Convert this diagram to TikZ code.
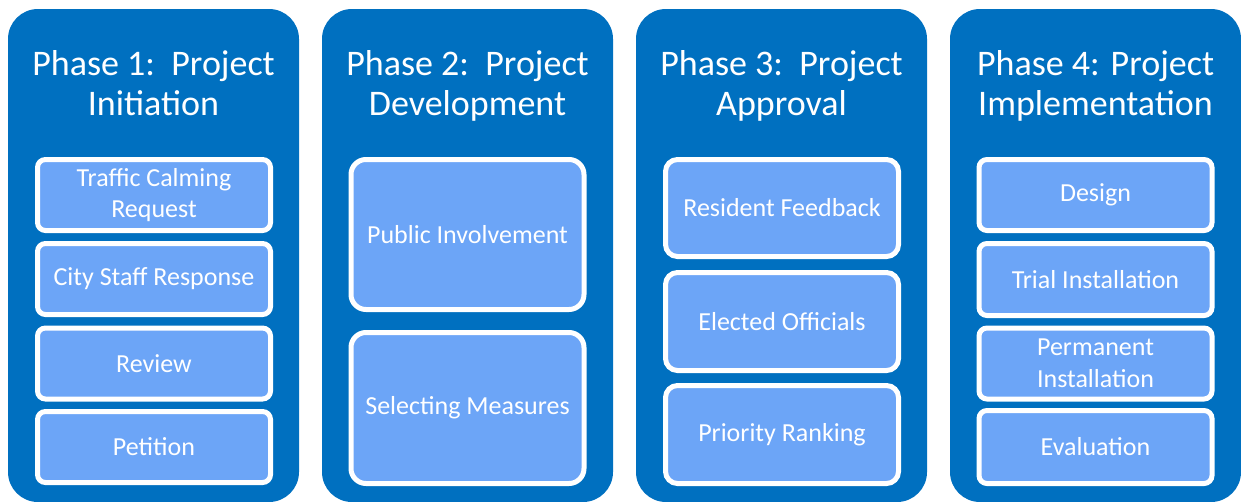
\documentclass[tikz,border=0pt]{standalone}
\usepackage{fontspec}
\setmainfont{Carlito}
\definecolor{phaseblue}{HTML}{0070C0}
\definecolor{stepblue}{HTML}{6CA5F7}
\tikzset{
  phasecol/.style={fill=phaseblue, draw=none, rounded corners=30pt},
  phasetitle/.style={text=white, align=center, inner sep=0pt, anchor=base,
    font=\fontsize{36}{40}\selectfont},
  stepbox/.style={draw=white, line width=5pt, fill=stepblue, text=white,
    align=center, inner sep=0pt, outer sep=0pt,
    minimum width=233pt, font=\fontsize{26}{31.7}\selectfont},
  smallbox/.style={stepbox, rounded corners=8pt, minimum height=71pt},
  midbox/.style={stepbox, rounded corners=12pt, minimum height=98pt},
  bigbox/.style={stepbox, rounded corners=15pt, minimum height=151pt},
}
\begin{document}
\begin{tikzpicture}[x=1pt, y=-1pt]
\useasboundingbox (0,0) rectangle (1241,501);
\begin{scope}
\clip (0,0) rectangle (1241,501);
\fill[phasecol] (8,9) rectangle (299,502);
\fill[phasecol] (322,9) rectangle (613,502);
\fill[phasecol] (636,9) rectangle (927,502);
\fill[phasecol] (950,9) rectangle (1241,502);
\end{scope}

% Titles (base anchor = baseline of the last line)
\node[phasetitle] (t1) at (153.5,115) {Phase 1:\ \ Project\\Initiation};
\node[phasetitle] (t2) at (467.5,115) {Phase 2:\ \ Project\\Development};
\node[phasetitle] (t3) at (781.5,115) {Phase 3:\ \ Project\\Approval};
\node[phasetitle] (t4) at (1095.5,115) {Phase 4: Project\\Implementation};

% Phase 1
\node[smallbox] (a1) at (154,195) {Traffic Calming\\Request};
\node[smallbox] (a2) at (154,279) {City Staff Response};
\node[smallbox] (a3) at (154,363.5) {Review};
\node[smallbox] (a4) at (154,447) {Petition};

% Phase 2
\node[bigbox, minimum height=150pt] (b1) at (467.5,234.5) {Public Involvement};
\node[bigbox] (b2) at (467.5,408) {Selecting Measures};

% Phase 3
\node[midbox, minimum height=97pt] (c1) at (782,208) {Resident Feedback};
\node[midbox] (c2) at (782,321.5) {Elected Officials};
\node[midbox] (c3) at (782,434.5) {Priority Ranking};

% Phase 4
\node[smallbox] (d1) at (1095.5,195) {Design};
\node[smallbox, minimum height=72pt] (d2) at (1095.5,279.5) {Trial Installation};
\node[smallbox] (d3) at (1095.5,363.5) {Permanent\\Installation};
\node[smallbox, minimum height=73pt] (d4) at (1095.5,447) {Evaluation};
\end{tikzpicture}
\end{document}
